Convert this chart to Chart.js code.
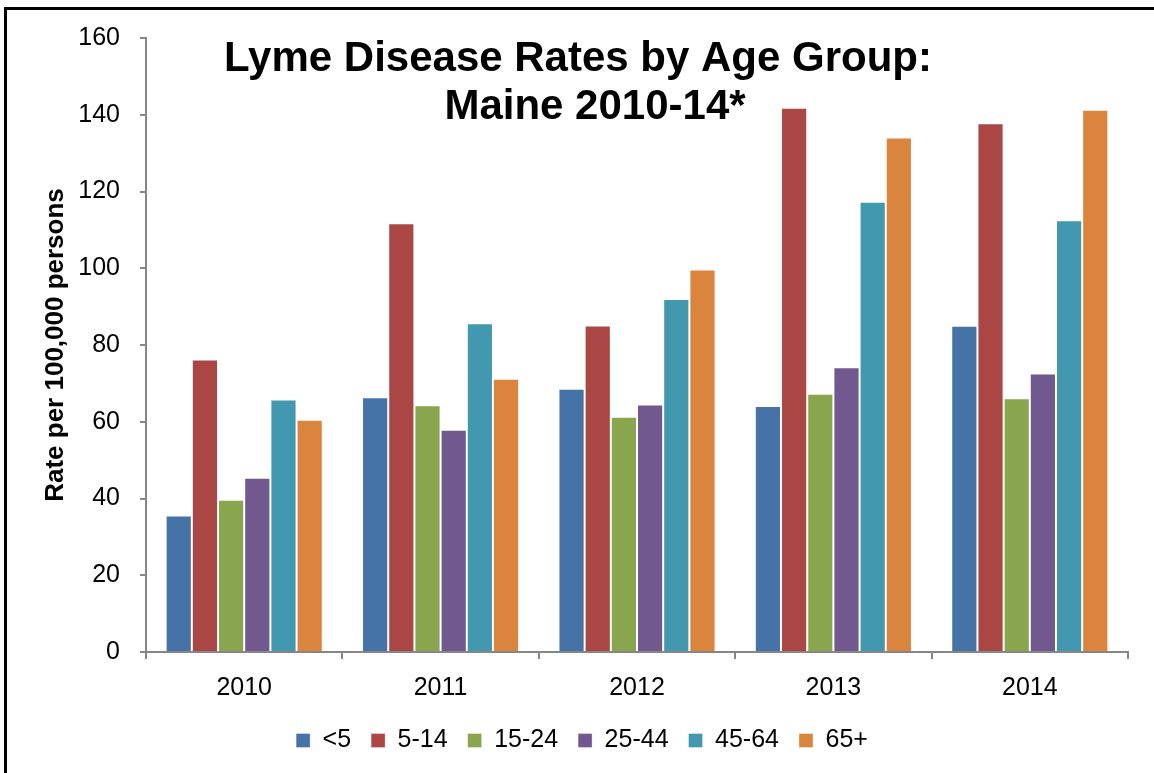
<!DOCTYPE html>
<html>
<head>
<meta charset="utf-8">
<script src="https://cdn.jsdelivr.net/npm/chart.js@4"></script>
<style>
  html, body { margin: 0; padding: 0; background: #ffffff; }
  #wrap { width: 1154px; height: 773px; position: relative; }
</style>
</head>
<body>
<div id="wrap"><canvas id="chart"></canvas></div>
<script>
// categorias e valores
var years = ['2010', '2011', '2012', '2013', '2014'];
var ageGroups = ['<5', '5-14', '15-24', '25-44', '45-64', '65+'];

var under5 = [35.6, 66.4, 68.6, 64.1, 85.0];
var age5to14 = [76.2, 111.7, 85.1, 141.8, 137.8];
var age15to24 = [39.7, 64.3, 61.3, 67.3, 66.1];
var age25to44 = [45.4, 57.9, 64.5, 74.2, 72.6];
var age45to64 = [65.8, 85.7, 92.0, 117.3, 112.5];
var age65plus = [60.5, 71.2, 99.7, 134.1, 141.3];

var yMin = 0;
var yMax = 160;
var yStep = 20;

var titleLines = ['Lyme Disease Rates by Age Group:', 'Maine 2010-14*'];
var yTitle = 'Rate per 100,000 persons';

var cores = ['#4572A7', '#AA4643', '#89A54E', '#71588F', '#4198AF', '#DB843D'];
var series = [under5, age5to14, age15to24, age25to44, age45to64, age65plus];

var datasets = [];
for (var i = 0; i < ageGroups.length; i++) {
  datasets.push({
    label: ageGroups[i],
    data: series[i],
    backgroundColor: cores[i],
    borderColor: 'rgba(255,255,255,0.35)',
    borderWidth: 1,
    categoryPercentage: 0.8,
    barPercentage: 1.0
  });
}

// moldura preta e titulo dentro da area do grafico
var extras = {
  id: 'extras',
  afterDraw: function (chart) {
    var ctx = chart.ctx;
    ctx.save();
    ctx.fillStyle = '#000000';
    ctx.fillRect(4, 7, 3, 773);
    ctx.fillRect(4, 7, 1154, 3);
    ctx.font = 'bold 42px "Liberation Sans", Arial, sans-serif';
    ctx.textAlign = 'center';
    ctx.textBaseline = 'alphabetic';
    ctx.fillText(titleLines[0], 578, 71);
    ctx.fillText(titleLines[1], 595, 119);
    ctx.restore();
  }
};

Chart.defaults.font.family = '"Liberation Sans", Arial, sans-serif';
Chart.defaults.color = '#000000';

var ctx = document.getElementById('chart').getContext('2d');
var chart = new Chart(ctx, {
  type: 'bar',
  data: { labels: years, datasets: datasets },
  options: {
    responsive: true,
    maintainAspectRatio: false,
    animation: false,
    layout: { padding: { left: 36, right: 26, top: 38, bottom: 10 } },
    plugins: {
      title: { display: false },
      tooltip: { enabled: false },
      legend: {
        position: 'bottom',
        labels: {
          boxWidth: 14,
          boxHeight: 14,
          padding: 20,
          font: { size: 25 },
          color: '#000000'
        }
      }
    },
    scales: {
      x: {
        grid: {
          drawOnChartArea: false,
          drawTicks: true,
          tickLength: 7,
          color: '#868686',
          lineWidth: 2
        },
        border: { color: '#868686', width: 2 },
        ticks: { font: { size: 25 }, color: '#000000', padding: 14 },
        afterFit: function (scale) { scale.height = 56; }
      },
      y: {
        min: yMin,
        max: yMax,
        ticks: { stepSize: yStep, font: { size: 25 }, color: '#000000', padding: 20 },
        grid: {
          drawOnChartArea: false,
          drawTicks: true,
          tickLength: 6,
          color: '#868686',
          lineWidth: 2
        },
        border: { color: '#868686', width: 2 },
        title: {
          display: true,
          text: yTitle,
          font: { size: 26, weight: 'bold' },
          color: '#000000'
        },
        afterFit: function (scale) { scale.width = 110; }
      }
    }
  },
  plugins: [extras]
});
</script>
</body>
</html>
